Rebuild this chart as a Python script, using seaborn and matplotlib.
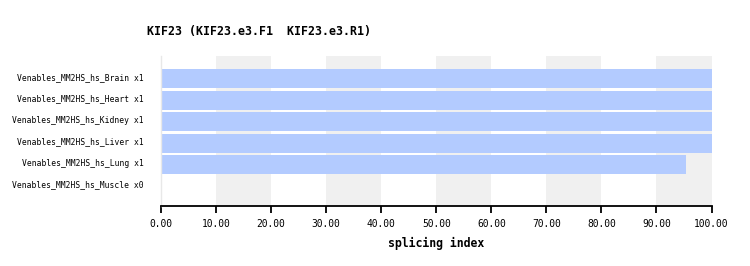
import matplotlib
matplotlib.use("Agg")
import matplotlib.pyplot as plt
import matplotlib.transforms as mtransforms
import seaborn as sns
import pandas as pd

samples = [
    "Venables_MM2HS_hs_Brain x1",
    "Venables_MM2HS_hs_Heart x1",
    "Venables_MM2HS_hs_Kidney x1",
    "Venables_MM2HS_hs_Liver x1",
    "Venables_MM2HS_hs_Lung x1",
    "Venables_MM2HS_hs_Muscle x0",
]
splicing_index = [100.0, 100.0, 100.0, 100.0, 95.3, 0.0]
x_ticks = [0, 10, 20, 30, 40, 50, 60, 70, 80, 90, 100]
title = "KIF23 (KIF23.e3.F1  KIF23.e3.R1)"
x_label = "splicing index"

df = pd.DataFrame({"sample": samples, "value": splicing_index})

sns.set_style("white")
plt.rcParams["font.family"] = ["DejaVu Sans Mono", "DejaVu Sans"]
plt.rcParams["text.color"] = "black"
plt.rcParams["axes.labelcolor"] = "black"
plt.rcParams["xtick.color"] = "black"
plt.rcParams["ytick.color"] = "black"

fig = plt.figure(figsize=(7.5, 2.66), dpi=100)
ax = fig.add_axes([161 / 750, 1 - 206.3 / 266, 550.5 / 750, (206.3 - 56) / 266])

for lo in range(10, 100, 20):
    ax.axvspan(lo, lo + 10, color="#f0f0f0", zorder=0, lw=0)

sns.barplot(data=df, x="value", y="sample", orient="h", color="#b3cbff",
            saturation=1, width=0.88, ax=ax, zorder=2, linewidth=0,
            edgecolor="none")

ax.set_xlim(0, 100)
ax.set_ylim(5.93, -1.05)
ax.set_xticks(x_ticks)
ax.set_xticklabels([f"{v:.2f}" for v in x_ticks], fontsize=6.9)
ax.tick_params(axis="x", length=5, width=1.3, color="black", pad=4, bottom=True)
ax.tick_params(axis="y", length=0, pad=12.2, labelsize=5.8)
ax.set_ylabel("")
ax.set_xlabel(x_label, fontsize=8.3, fontweight="bold", labelpad=6)

offset = mtransforms.ScaledTranslation(0, 2.2 / 100, fig.dpi_scale_trans)
for lbl in ax.get_yticklabels():
    lbl.set_transform(lbl.get_transform() + offset)

for s in ["top", "right"]:
    ax.spines[s].set_visible(False)
ax.spines["bottom"].set_color("black")
ax.spines["bottom"].set_linewidth(1.3)
ax.spines["left"].set_color("#e8e8e8")
ax.spines["left"].set_linewidth(1)

fig.text(147 / 750, 1 - 31 / 266, title, fontsize=8.4, fontweight="bold",
         ha="left", va="center", color="black")

fig.savefig("out.png", dpi=100)
